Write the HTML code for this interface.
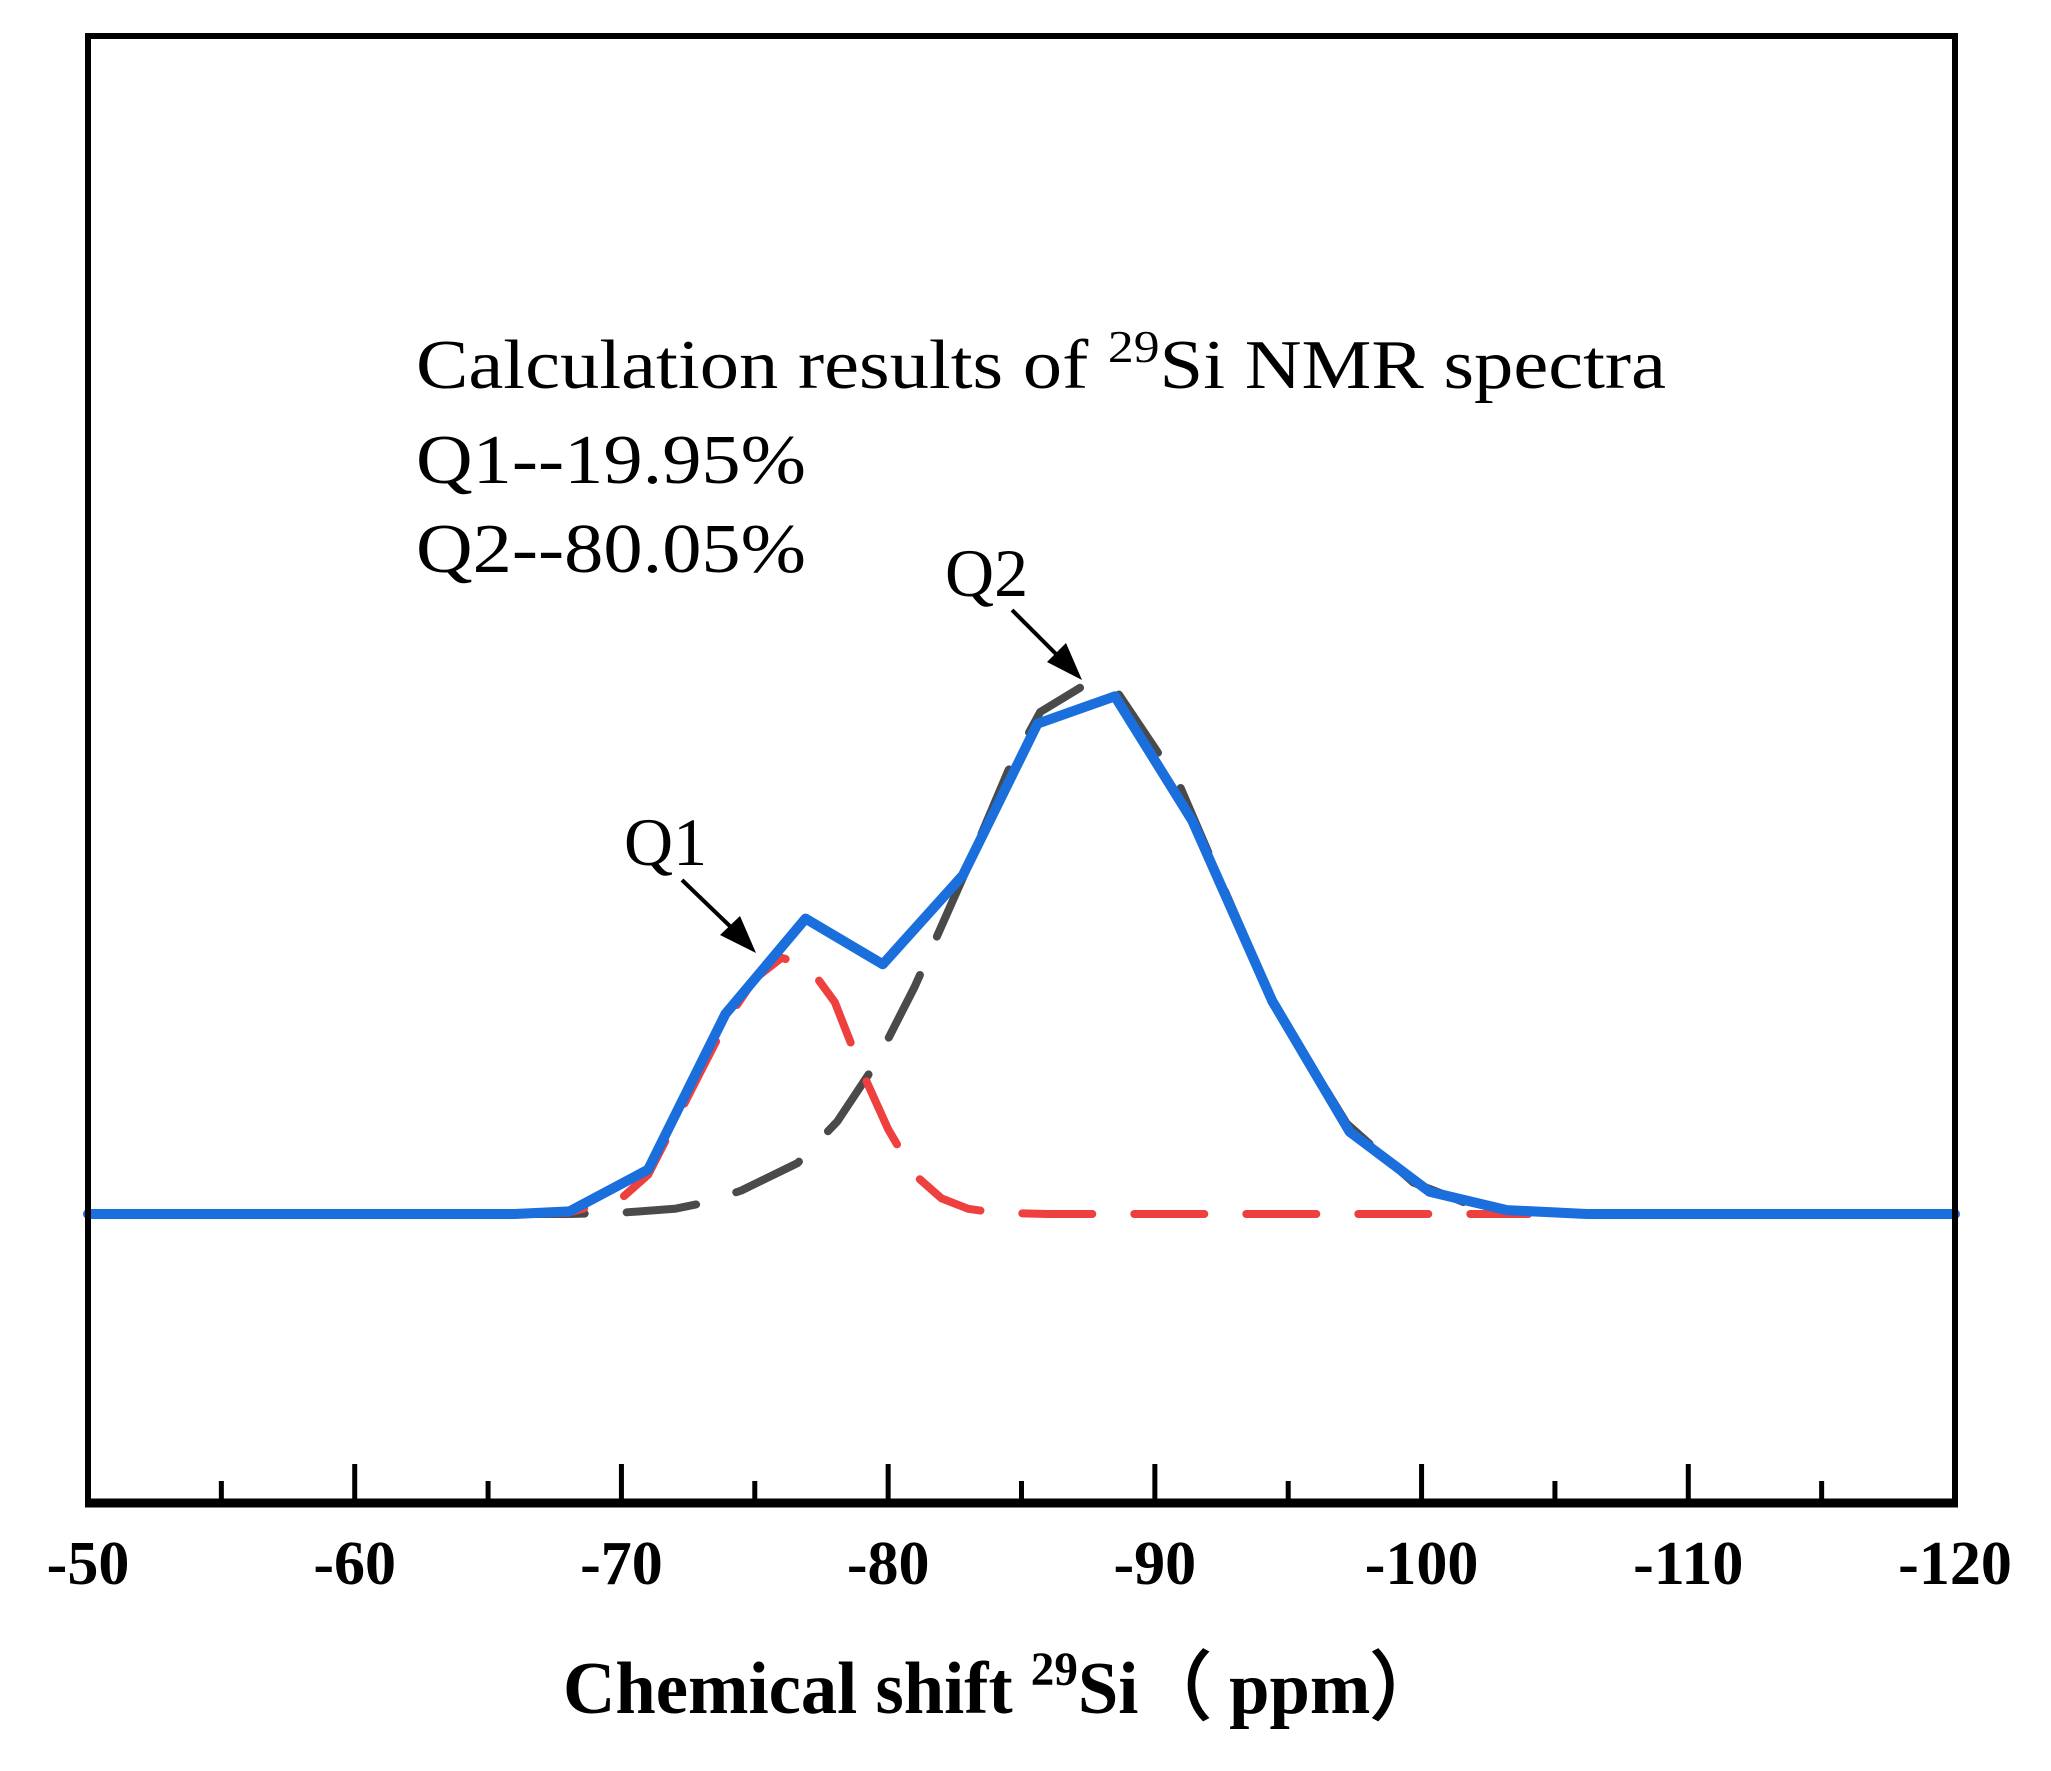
<!DOCTYPE html>
<html><head><meta charset="utf-8"><style>html,body{margin:0;padding:0;background:#fff}svg{display:block}</style></head>
<body>
<svg id="chart" width="2051" height="1771" viewBox="0 0 2051 1771" xmlns="http://www.w3.org/2000/svg" font-family="Liberation Serif, serif">
<g id="marks"></g>
<rect x="88" y="36" width="1867" height="1467" fill="none" stroke="#000" stroke-width="6"/>
<line x1="85" y1="1503" x2="1958" y2="1503" stroke="#000" stroke-width="9"/>
<g id="ticks"></g>
<text x="416" y="388" font-size="70" textLength="1250" lengthAdjust="spacingAndGlyphs">Calculation results of <tspan font-size="46" dy="-26">29</tspan><tspan dy="26">Si NMR spectra</tspan></text>
<text x="416" y="483" font-size="70" textLength="390" lengthAdjust="spacingAndGlyphs">Q1--19.95%</text>
<text x="416" y="572" font-size="70" textLength="390" lengthAdjust="spacingAndGlyphs">Q2--80.05%</text>
<text x="624" y="865" font-size="68">Q1</text>
<text x="945" y="596" font-size="68">Q2</text>
<g><line x1="682" y1="880" x2="735" y2="931" stroke="#000" stroke-width="4"/><path d="M756,953 L720,935 L740,916 Z" fill="#000"/></g>
<g><line x1="1012" y1="610" x2="1062" y2="660" stroke="#000" stroke-width="4"/><path d="M1082,680 L1047,662 L1066,643 Z" fill="#000"/></g>
<text x="1003" y="1713" font-size="74" font-weight="bold" text-anchor="middle" textLength="880" lengthAdjust="spacingAndGlyphs">Chemical shift <tspan font-size="48" dy="-28">29</tspan><tspan dy="28">Si（  ppm）</tspan></text>
</svg>
<script>
const xTicks = [-50,-60,-70,-80,-90,-100,-110,-120];
const minorTicks = [-55,-65,-75,-85,-95,-105,-115];
const fitX = [-50,-66,-68.05,-71.0,-73.9,-76.9,-79.8,-82.8,-85.6,-88.5,-91.4,-94.4,-97.3,-100.3,-103.2,-106.2,-120];
const fitY = [0,0,2,34,153,226,191,259,375,396,301,163,63,17,3,0,0];
const q1X = [-66,-68,-70,-71,-72,-73,-74,-75,-76,-77,-78,-79,-80,-81,-82,-83,-84,-86,-104];
const q1Y = [0,1,12,30,70,110,150,180,196,190,162,110,65,30,12,4,1,0,0];
const q2X = [-66,-68,-70,-72,-73.2,-74.5,-76.6,-78.1,-79.5,-81.0,-82.8,-84.5,-85.7,-87.4,-88.6,-90.9,-92.8,-94.5,-97.2,-99.7,-101.6,-103.6,-106];
const q2Y = [0,0,1,4,9,18,39,71,114,174,257,339,384,405,399,329,239,159,69,24,9,2,0];

const X0=88, X1=1955, Y0=36, Y1=1503;
const xMin=-50, xMax=-120, yMin=-221, yMax=901;
function sx(v){return X0+(v-xMin)/(xMax-xMin)*(X1-X0);}
function sy(v){return Y1-(v-yMin)/(yMax-yMin)*(Y1-Y0);}
const NS='http://www.w3.org/2000/svg';
const marks=document.getElementById('marks');
const ticks=document.getElementById('ticks');
function path(xs,ys){return xs.map((x,i)=>(i?'L':'M')+sx(x).toFixed(1)+','+sy(ys[i]).toFixed(1)).join(' ');}
function curve(xs,ys,color,w,dash){
  const p=document.createElementNS(NS,'path');
  p.setAttribute('d',path(xs,ys));
  p.setAttribute('fill','none');p.setAttribute('stroke',color);p.setAttribute('stroke-width',w);
  p.setAttribute('stroke-linejoin','round');p.setAttribute('stroke-linecap','round');
  if(dash)p.setAttribute('stroke-dasharray',dash);
  marks.appendChild(p);return p;
}
const pq2=curve(q2X,q2Y,'#4a4a4a',8,'70 42');


const pq1=curve(q1X,q1Y,'#ef4040',8,'70 42');


const pf=curve(fitX,fitY,'#1a6fdc',10,null);


xTicks.forEach(t=>{
  const l=document.createElementNS(NS,'line');
  l.setAttribute('x1',sx(t));l.setAttribute('x2',sx(t));l.setAttribute('y1',Y1);l.setAttribute('y2',Y1-39);
  l.setAttribute('stroke','#000');l.setAttribute('stroke-width',5);
  
  
  ticks.appendChild(l);
  const tx=document.createElementNS(NS,'text');
  tx.setAttribute('x',sx(t));tx.setAttribute('y',1584);tx.setAttribute('font-size',62);
  tx.setAttribute('font-weight','bold');tx.setAttribute('text-anchor','middle');
  tx.textContent=String(t);
  
  
  ticks.appendChild(tx);
});
minorTicks.forEach(t=>{
  const l=document.createElementNS(NS,'line');
  l.setAttribute('x1',sx(t));l.setAttribute('x2',sx(t));l.setAttribute('y1',Y1);l.setAttribute('y2',Y1-22);
  l.setAttribute('stroke','#000');l.setAttribute('stroke-width',5);
  
  
  ticks.appendChild(l);
});
</script>
</body></html>
